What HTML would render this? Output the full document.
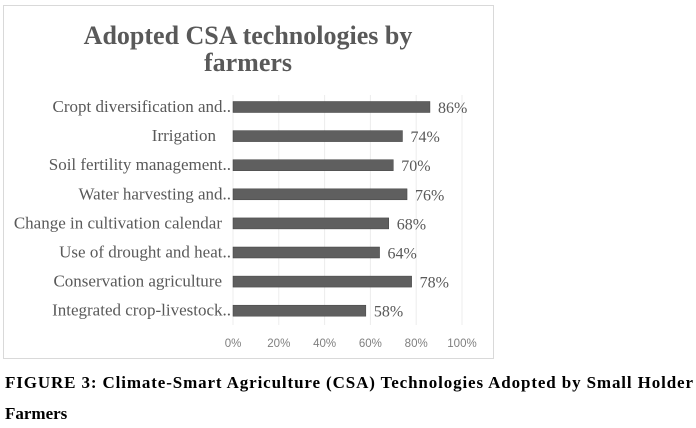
<!DOCTYPE html>
<html><head><meta charset="utf-8"><style>
html,body{margin:0;padding:0;background:#fff;width:696px;height:428px;overflow:hidden}
svg{display:block}
</style></head><body>
<svg id="chart" width="696" height="428" xmlns="http://www.w3.org/2000/svg">
<rect x="3.5" y="5.5" width="490" height="353" fill="#fff" stroke="#d9d9d9"/>
<text x="248" y="44" text-anchor="middle" font-family="Liberation Serif, serif" font-weight="bold" font-size="26" fill="#595959">Adopted CSA technologies by</text>
<text x="248" y="71" text-anchor="middle" font-family="Liberation Serif, serif" font-weight="bold" font-size="26" fill="#595959">farmers</text>
<g id="grid"></g><g id="bars"></g><g id="ticks"></g>
<text x="5" y="388" font-family="Liberation Serif, serif" font-weight="bold" font-size="17" fill="#000" textLength="688" lengthAdjust="spacing">FIGURE 3: Climate-Smart Agriculture (CSA) Technologies Adopted by Small Holder</text>
<text x="5" y="419" font-family="Liberation Serif, serif" font-weight="bold" font-size="17" fill="#000">Farmers</text>
</svg>
<script>
const categories=["Cropt diversification and..","Irrigation","Soil fertility management..","Water harvesting and..","Change in cultivation calendar","Use of drought and heat..","Conservation agriculture","Integrated crop-livestock.."];
const values=[86,74,70,76,68,64,78,58];
const tickValues=[0,20,40,60,80,100];
const NS="http://www.w3.org/2000/svg";
const x0=233,pxPer=2.29,yTop=107,step=29.1,bh=11;
const xs=v=>x0+v*pxPer;
const ys=i=>yTop+i*step;
function mk(t,a,p,txt){const e=document.createElementNS(NS,t);for(const k in a)e.setAttribute(k,a[k]);if(txt!=null)e.textContent=txt;p.appendChild(e);return e;}
const g=document.getElementById('grid'),b=document.getElementById('bars'),tk=document.getElementById('ticks');
tickValues.forEach(v=>{
 const l=mk('line',{x1:xs(v),x2:xs(v),y1:95,y2:325,stroke:'#ececec'},g);
 
 
 const t=mk('text',{x:xs(v),y:347,'text-anchor':'middle','font-family':'Liberation Sans, sans-serif','font-size':11.5,fill:'#7f7f7f'},tk,v+'%');
 
 
});
categories.forEach((c,i)=>{
 const y=ys(i);
 const r=mk('rect',{x:x0,y:y-bh/2,width:values[i]*pxPer,height:bh,fill:'#5f5f5f',stroke:'#404040','stroke-width':0.5},b);
 
 
 const trunc=c.endsWith('..');
 const ex=trunc?x0-2:(c==='Irrigation'?x0-17:x0-11);
 const l=mk('text',{x:ex,y:y+5,'text-anchor':'end','font-family':'Liberation Serif, serif','font-size':17,fill:'#595959'},b,c);
 
 
 const v=mk('text',{x:xs(values[i])+8,y:y+6,'font-family':'Liberation Serif, serif','font-size':16,fill:'#595959'},b,values[i]+'%');
 
 
});
</script>
</body></html>
